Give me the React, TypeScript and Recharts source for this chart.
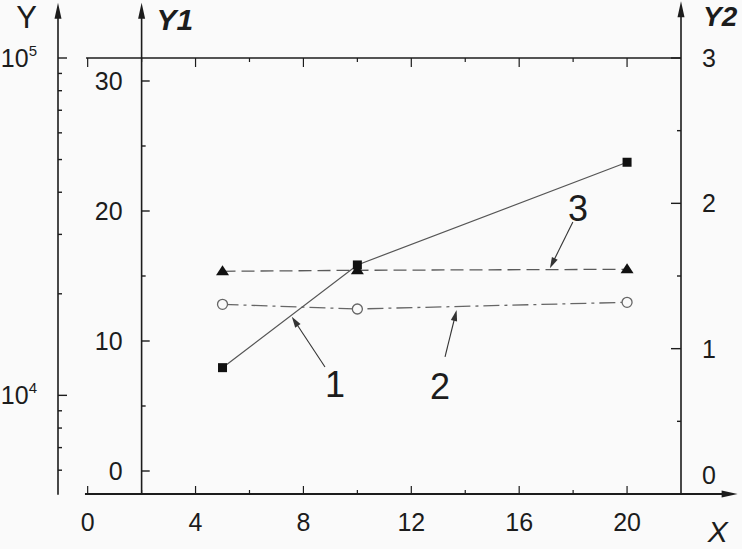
import { LineChart, Line, XAxis, YAxis, ReferenceLine, ReferenceDot } from 'recharts'

// measured points (x = 5, 10, 20)
const X_VALUES = [5, 10, 20]
const CURVE_1 = [7.95, 15.85, 23.75] // on Y1
const CURVE_2 = [1.305, 1.273, 1.319] // on Y2
const CURVE_3 = [23320, 23480, 23640] // on Y (log)

const X_TICKS = [0, 2, 4, 6, 8, 10, 12, 14, 16, 18, 20]
const X_LABELS = [0, 4, 8, 12, 16, 20]
const Y1_TICKS = [0, 5, 10, 15, 20, 25, 30]
const Y1_LABELS = [0, 10, 20, 30]
const Y2_TICKS = [0, 0.5, 1, 1.5, 2, 2.5, 3]
const Y2_LABELS = [0, 1, 2, 3]
const YLOG_TICKS = [6000, 7000, 8000, 9000, 10000, 20000, 30000, 40000, 50000, 60000, 70000, 80000, 90000, 100000]
const YLOG_LABELS = [10000, 100000]

// curve callouts, in x / Y2 units
const NOTE_TEXT = ['1', '2', '3']
const NOTE_TAIL_X = [8.8, 13.25, 17.99]
const NOTE_TAIL_Y = [0.874, 0.943, 1.872]
const NOTE_TIP_X = [7.57, 13.68, 17.14]
const NOTE_TIP_Y = [1.22, 1.266, 1.553]
const NOTE_LABEL_X = [9.17, 13.06, 18.18]
const NOTE_LABEL_Y = [0.757, 0.743, 1.968]

const BG = '#fafafa'
const INK = '#1c1c1c'
const FONT = '"Liberation Sans", Arial, sans-serif'
const TICK_FS = 25

const rows = X_VALUES.map((x, i) => ({ x, c1: CURVE_1[i], c2: CURVE_2[i], c3: CURVE_3[i] }))

function Arrow(props: any) {
  const {
    x1, y1, x2, y2, title, tdx = 0, tdy = 0, anchor = 'start',
    italic = false, bold = false, head = 16, half = 3.5, width = 1.6, color = INK, tsize = 32,
  } = props
  const dx = x2 - x1
  const dy = y2 - y1
  const len = Math.hypot(dx, dy) || 1
  const ux = dx / len
  const uy = dy / len
  const bx = x2 - ux * head
  const by = y2 - uy * head
  return (
    <g>
      <line x1={x1} y1={y1} x2={bx + ux * 2} y2={by + uy * 2} stroke={color} strokeWidth={width} />
      <polygon
        points={`${x2},${y2} ${bx - uy * half},${by + ux * half} ${bx + uy * half},${by - ux * half}`}
        fill={color}
      />
      {title && (
        <text
          x={x2 + tdx} y={y2 + tdy} textAnchor={anchor} fontSize={tsize} fontFamily={FONT} fill={INK}
          fontStyle={italic ? 'italic' : 'normal'} fontWeight={bold ? 'bold' : 'normal'}
        >
          {title}
        </text>
      )}
    </g>
  )
}

function BottomTick({ x, y, payload }: any) {
  const major = X_LABELS.includes(payload.value)
  return (
    <g>
      <line x1={x} y1={y} x2={x} y2={y - (major ? 8 : 4)} stroke={INK} strokeWidth={1.2} />
      {major && (
        <text x={x} y={y + 37} textAnchor="middle" fontSize={TICK_FS} fontFamily={FONT} fill={INK}>
          {payload.value}
        </text>
      )}
    </g>
  )
}

function TopTick({ x, y, payload }: any) {
  const major = X_LABELS.includes(payload.value)
  return <line x1={x} y1={y} x2={x} y2={y + (major ? 9 : 4)} stroke={INK} strokeWidth={1.2} />
}

function LogTick({ x, y, payload }: any) {
  const major = YLOG_LABELS.includes(payload.value)
  return (
    <g>
      <line x1={x} y1={y} x2={x + (major ? 9 : 4)} y2={y} stroke={INK} strokeWidth={1.4} />
      {major && (
        <text x={x - 21} y={y + 9} textAnchor="end" fontSize={TICK_FS} fontFamily={FONT} fill={INK}>
          10
          <tspan dy={-11} fontSize={15}>{Math.round(Math.log10(payload.value))}</tspan>
        </text>
      )}
    </g>
  )
}

function Y2Tick({ x, y, payload }: any) {
  const major = Y2_LABELS.includes(payload.value)
  const ly = payload.value === 0 ? y - 19 : y
  return (
    <g>
      <line x1={x} y1={y} x2={x - (major ? 10 : 4)} y2={y} stroke={INK} strokeWidth={1.4} />
      {major && (
        <text x={x + 21} y={ly + 9} textAnchor="start" fontSize={TICK_FS} fontFamily={FONT} fill={INK}>
          {payload.value}
        </text>
      )}
    </g>
  )
}

function Y1Tick(props: any) {
  const { x1, y1, x2, y2, value } = props
  return (
    <g>
      <line x1={x1} y1={y1} x2={x2} y2={y2} stroke={INK} strokeWidth={1.4} />
      {Y1_LABELS.includes(value) && (
        <text x={x1 - 19} y={y1 + 9} textAnchor="end" fontSize={TICK_FS} fontFamily={FONT} fill={INK}>
          {value}
        </text>
      )}
    </g>
  )
}

const squareDot = (p: any) => (
  <rect key={`s${p.index}`} x={p.cx - 4.5} y={p.cy - 4.5} width={9} height={9} fill="#111" />
)
const circleDot = (p: any) => (
  <circle key={`c${p.index}`} cx={p.cx} cy={p.cy} r={5} fill={BG} stroke="#666" strokeWidth={1.3} />
)
const triangleDot = (p: any) => (
  <polygon
    key={`t${p.index}`}
    points={`${p.cx},${p.cy - 6} ${p.cx - 6.5},${p.cy + 4} ${p.cx + 6.5},${p.cy + 4}`}
    fill="#111"
  />
)

export default function App() {
  return (
    <div style={{ width: 742, height: 549, background: BG }}>
      <style>{'body{margin:0}'}</style>
      <LineChart width={742} height={549} data={rows} margin={{ top: 0, right: 0, bottom: 0, left: 0 }}>
        <XAxis
          xAxisId="b" type="number" dataKey="x" domain={[-1.1, 22]} allowDataOverflow
          ticks={X_TICKS} interval={0} height={55} axisLine={false} tickLine={false}
          tickSize={0} tickMargin={0} tick={(p: any) => <BottomTick {...p} />}
        />
        <XAxis
          xAxisId="t" orientation="top" type="number" dataKey="x" domain={[-1.1, 22]} allowDataOverflow
          ticks={X_TICKS} interval={0} height={58} axisLine={false} tickLine={false}
          tickSize={0} tickMargin={0} tick={(p: any) => <TopTick {...p} />}
        />
        <YAxis
          yAxisId="log" scale="log" type="number" domain={[5100, 100000]} allowDataOverflow
          ticks={YLOG_TICKS} interval={0} width={58} axisLine={false} tickLine={false}
          tickSize={0} tickMargin={0} tick={(p: any) => <LogTick {...p} />}
        />
        <YAxis yAxisId="y1" hide type="number" domain={[-1.769, 31.769]} allowDataOverflow />
        <YAxis
          yAxisId="y2" orientation="right" type="number" domain={[0, 3]} allowDataOverflow
          ticks={Y2_TICKS} interval={0} width={61} axisLine={false} tickLine={false}
          tickSize={0} tickMargin={0} tick={(p: any) => <Y2Tick {...p} />}
        />

        {/* axis lines with arrows */}
        <ReferenceLine
          xAxisId="b" yAxisId="y2" ifOverflow="visible"
          segment={[{ x: -0.1, y: 0 }, { x: 24.1, y: 0 }]}
          shape={(p: any) => <Arrow {...p} width={2} title="X" tdx={-30} tdy={48} italic tsize={30} />}
        />
        <ReferenceLine
          xAxisId="b" yAxisId="y2" ifOverflow="visible"
          segment={[{ x: -0.06, y: 3 }, { x: 22, y: 3 }]}
          stroke={INK} strokeWidth={1.6}
        />
        <ReferenceLine
          xAxisId="b" yAxisId="y2" ifOverflow="visible"
          segment={[{ x: -1.1, y: -0.005 }, { x: -1.1, y: 3.38 }]}
          shape={(p: any) => <Arrow {...p} title="Y" tdx={-21} tdy={25} anchor="end" tsize={31} />}
        />
        <ReferenceLine
          xAxisId="b" yAxisId="y2" ifOverflow="visible"
          segment={[{ x: 2, y: 0 }, { x: 2, y: 3.38 }]}
          shape={(p: any) => <Arrow {...p} title="Y1" tdx={15} tdy={27} italic bold tsize={30} />}
        />
        <ReferenceLine
          xAxisId="b" yAxisId="y2" ifOverflow="visible"
          segment={[{ x: 22, y: -0.005 }, { x: 22, y: 3.39 }]}
          shape={(p: any) => <Arrow {...p} title="Y2" tdx={22} tdy={25} italic bold tsize={28} />}
        />

        {/* Y1 ticks sit on the inner axis at x = 2 */}
        {Y1_TICKS.map((t) => (
          <ReferenceLine
            key={`y1-${t}`} xAxisId="b" yAxisId="y1" ifOverflow="visible"
            segment={[{ x: 2, y: t }, { x: 2 + (Y1_LABELS.includes(t) ? 0.3 : 0.15), y: t }]}
            shape={(p: any) => <Y1Tick {...p} value={t} />}
          />
        ))}

        <Line
          xAxisId="b" yAxisId="log" dataKey="c3" stroke="#5a5a5a" strokeWidth={1.3}
          strokeDasharray="13 6" dot={triangleDot} activeDot={false} isAnimationActive={false}
        />
        <Line
          xAxisId="b" yAxisId="y2" dataKey="c2" stroke="#666" strokeWidth={1.3}
          strokeDasharray="16 5 3 5" dot={circleDot} activeDot={false} isAnimationActive={false}
        />
        <Line
          xAxisId="b" yAxisId="y1" dataKey="c1" stroke="#555" strokeWidth={1.2}
          dot={squareDot} activeDot={false} isAnimationActive={false}
        />

        {/* callouts */}
        {NOTE_TEXT.map((n, i) => (
          <ReferenceLine
            key={`na-${n}`} xAxisId="b" yAxisId="y2" ifOverflow="visible"
            segment={[{ x: NOTE_TAIL_X[i], y: NOTE_TAIL_Y[i] }, { x: NOTE_TIP_X[i], y: NOTE_TIP_Y[i] }]}
            shape={(p: any) => <Arrow {...p} head={11} half={3.2} width={1.1} color="#333" />}
          />
        ))}
        {NOTE_TEXT.map((n, i) => (
          <ReferenceDot
            key={`nl-${n}`} xAxisId="b" yAxisId="y2" x={NOTE_LABEL_X[i]} y={NOTE_LABEL_Y[i]}
            ifOverflow="visible"
            shape={(p: any) => (
              <text x={p.cx} y={p.cy + 13} textAnchor="middle" fontSize={36} fontFamily={FONT} fill={INK}>
                {n}
              </text>
            )}
          />
        ))}
      </LineChart>
    </div>
  )
}
